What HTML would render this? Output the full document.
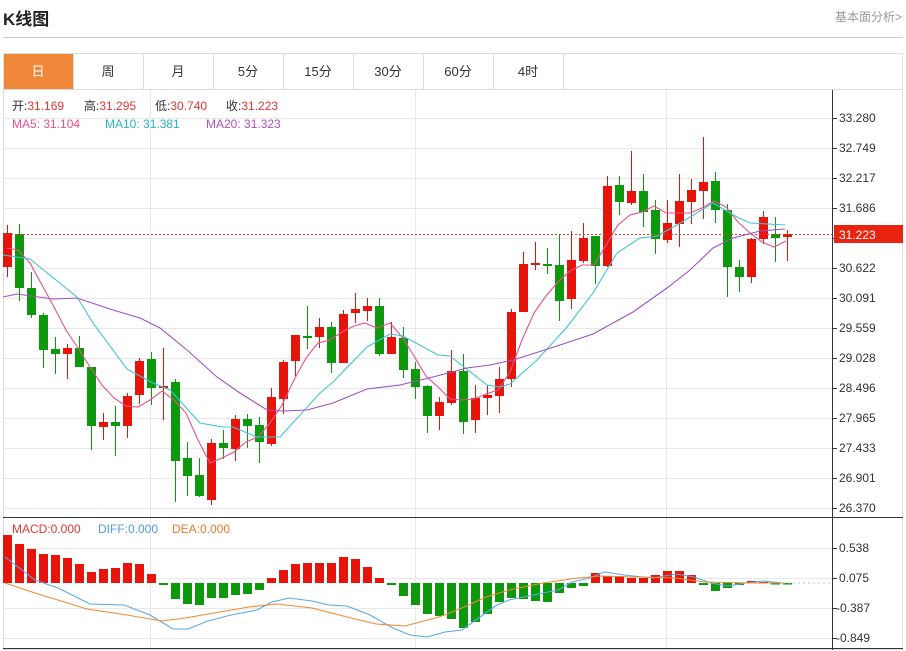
<!DOCTYPE html>
<html><head><meta charset="utf-8">
<style>
body{margin:0;background:#fff;width:906px;height:651px;overflow:hidden;font-family:"Liberation Sans","Noto Sans CJK SC",sans-serif;}
.t{position:absolute;white-space:nowrap;}
</style></head><body>
<div class="t" style="left:3px;top:5px;font-size:17px;font-weight:bold;color:#222;">K线图</div>
<div class="t" style="left:835px;top:8px;font-size:12px;color:#999;">基本面分析&gt;</div>
<div style="position:absolute;left:3px;top:37px;width:900px;height:1px;background:#ccc"></div>
<svg width="906" height="651" style="position:absolute;left:0;top:0" id="s" xmlns="http://www.w3.org/2000/svg" font-family="Liberation Sans, Noto Sans CJK SC, sans-serif">
<rect x="3.5" y="53.5" width="899" height="596" fill="none" stroke="#ddd"/>
<line x1="3" y1="89.5" x2="903" y2="89.5" stroke="#ddd"/>
<rect x="4" y="54" width="69" height="35" fill="#f0883a"/>
<g stroke="#ddd"><line x1="73.5" y1="54" x2="73.5" y2="89"/><line x1="143.5" y1="54" x2="143.5" y2="89"/><line x1="213.5" y1="54" x2="213.5" y2="89"/><line x1="283.5" y1="54" x2="283.5" y2="89"/><line x1="353.5" y1="54" x2="353.5" y2="89"/><line x1="423.5" y1="54" x2="423.5" y2="89"/><line x1="493.5" y1="54" x2="493.5" y2="89"/><line x1="563.5" y1="54" x2="563.5" y2="89"/></g>
<g font-size="13" text-anchor="middle" fill="#333"><text x="38" y="76" fill="#fff">日</text><text x="108" y="76">周</text><text x="178" y="76">月</text><text x="248" y="76">5分</text><text x="318" y="76">15分</text><text x="388" y="76">30分</text><text x="458" y="76">60分</text><text x="528" y="76">4时</text></g>
<g id="grid" stroke="#e8e8e8" stroke-width="1"></g>
<g id="cd"></g>
<g id="ln" fill="none" stroke-width="1.1"></g>
<line x1="3" y1="234.5" x2="832" y2="234.5" stroke="#e8332f" stroke-dasharray="2,2"/>
<line x1="832.5" y1="90" x2="832.5" y2="650" stroke="#333"/>
<line x1="3" y1="517.5" x2="903" y2="517.5" stroke="#333"/>
<line x1="3" y1="648.5" x2="903" y2="648.5" stroke="#333"/>
<g font-size="12" fill="#333">
<text x="839" y="122">33.280</text><text x="839" y="152">32.749</text><text x="839" y="182">32.217</text><text x="839" y="212">31.686</text><text x="839" y="272">30.622</text><text x="839" y="302">30.091</text><text x="839" y="332">29.559</text><text x="839" y="362">29.028</text><text x="839" y="392">28.496</text><text x="839" y="422">27.965</text><text x="839" y="452">27.433</text><text x="839" y="482">26.901</text><text x="839" y="512">26.370</text>
<text x="839" y="552">0.538</text><text x="839" y="582">0.075</text><text x="836" y="612">-0.387</text><text x="836" y="642">-0.849</text>
</g>
<rect x="834" y="225" width="69" height="18" fill="#e8230f"/>
<text x="839" y="239" font-size="12" fill="#fff">31.223</text>
<g font-size="12">
<text x="12" y="110" fill="#333">开:<tspan fill="#e8332f">31.169</tspan></text>
<text x="84" y="110" fill="#333">高:<tspan fill="#e8332f">31.295</tspan></text>
<text x="155" y="110" fill="#333">低:<tspan fill="#e8332f">30.740</tspan></text>
<text x="226" y="110" fill="#333">收:<tspan fill="#e8332f">31.223</tspan></text>
<text x="12" y="128" fill="#e8508a">MA5: 31.104</text>
<text x="105" y="128" fill="#26b5c8">MA10: 31.381</text>
<text x="206" y="128" fill="#b050c0">MA20: 31.323</text>
<text x="12" y="533" fill="#e8332f">MACD:0.000</text>
<text x="98" y="533" fill="#4a9fe0">DIFF:0.000</text>
<text x="172" y="533" fill="#f07a20">DEA:0.000</text>
</g>
</svg>
<script>
var NS="http://www.w3.org/2000/svg";
function el(p,t,a){var e=document.createElementNS(NS,t);for(var k in a)e.setAttribute(k,a[k]);document.getElementById(p).appendChild(e);return e;}
[118,148,178,208,238,268,298,328,358,388,418,448,478,508,548,578,608,638].forEach(function(y){el("grid","line",{x1:3,x2:832,y1:y+.5,y2:y+.5});el("grid","line",{x1:832,x2:837,y1:y+.5,y2:y+.5,stroke:"#333"});});
[150,415,666].forEach(function(x){el("grid","line",{x1:x+.5,x2:x+.5,y1:90,y2:648});});
var C=[["r",233,267,225,277],["g",234,288,224,301],["g",288,315,272,318],["g",315,350,313,368],["g",349,354,337,374],["r",348,354,344,379],["g",348,367,336,367],["g",367,426,367,450],["r",422,427,413,440],["g",422,426,406,456],["r",396,426,393,438],["r",361,395,358,404],["g",359,388,352,405],["r",386,388,348,420],["g",382,461,379,502],["g",458,476,442,496],["g",475,496,458,497],["r",443,500,439,505],["g",443,448,430,459],["r",419,449,415,461],["g",419,426,414,448],["g",425,442,417,463],["r",397,444,388,446],["r",362,399,360,414],["r",335,361,335,376],["g",336,337,306,349],["r",327,337,318,348],["g",327,363,322,373],["r",314,363,310,363],["r",309,313,293,323],["r",306,311,298,321],["g",306,354,298,356],["r",337,354,322,354],["g",338,370,327,378],["g",369,387,362,399],["g",386,416,385,433],["r",402,416,397,430],["r",371,403,350,405],["g",371,422,354,434],["r",398,420,385,433],["r",395,398,385,415],["r",379,396,367,413],["r",312,379,309,387],["r",264,312,252,312],["r",263,264,242,270],["g",264,266,248,274],["g",265,301,235,321],["r",260,299,231,309],["r",238,261,223,263],["g",236,266,236,284],["r",186,266,176,267],["g",185,202,176,215],["r",191,203,151,205],["g",191,212,174,227],["g",210,239,200,254],["r",223,240,200,243],["r",201,224,174,247],["r",190,202,179,224],["r",182,191,137,219],["g",181,210,172,223],["g",210,267,204,297],["g",267,277,260,292],["r",239,277,238,283],["r",217,239,211,244],["g",234,238,217,262],["r",234,237,230,261]];
C.forEach(function(c,i){var x=7+12*i,col=c[0]=="r"?"#e8140c":"#0c9a0c";el("cd","line",{x1:x+.5,x2:x+.5,y1:c[3],y2:c[4],stroke:col});el("cd","rect",{x:x-4,y:c[1],width:9,height:Math.max(2,c[2]-c[1]),fill:col});});
var H=[535,544,549,554,555,558,564,572,569,568,563,564,574,585,599,604,605,598,598,595,594,590,578,570,564,563,563,563,557,559,567,578,585,596,605,614,616,619,628,622,614,602,598,599,601,602,593,588,586,573,576,576,578,578,575,571,571,575,585,591,588,585,581,582,583,583];
H.forEach(function(h,i){var x=7+12*i,r=h<583;el("cd","rect",{x:x-4,y:Math.min(h,583),width:9,height:Math.max(1.5,Math.abs(h-583)),fill:r?"#e8140c":"#0c9a0c"});});
function pl(pts,col){el("ln","polyline",{points:pts,stroke:col});}
pl("7,248 18,250 30,263 42,285 54,307 66,330 78,348 90,367 102,385 114,398 126,406 138,407 150,400 162,391 174,400 186,413 198,440 210,463 222,458 234,452 246,442 258,437 270,423 282,405 294,380 306,358 318,343 330,340 342,332 354,326 365,323 377,328 390,323 402,337 414,356 426,376 438,387 450,399 462,400 474,399 486,394 498,390 510,372 522,340 534,313 546,296 558,282 570,271 582,265 594,265 606,245 618,225 630,215 642,212 654,206 666,213 678,213 690,213 702,208 714,201 726,207 738,222 750,233 762,242 774,247 786,241","#e8508a");
pl("3,255 30,259 77,297 93,323 127,369 153,383 170,390 200,423 222,427 233,427 257,437 280,437 320,393 333,382 367,347 390,334 403,336 438,355 450,356 487,385 500,387 510,384 537,360 567,327 593,293 617,253 640,238 657,236 677,225 713,203 737,217 750,223 785,225","#40c4d4");
pl("3,297 17,294 53,299 77,298 113,310 140,318 160,328 187,350 217,377 240,393 267,410 283,411 307,410 333,403 367,389 400,385 433,377 467,368 490,365 513,360 557,346 593,334 633,312 667,288 690,270 713,248 733,238 760,231 785,229","#a050c0");
pl("5,557 35,580 58,588 90,604 124,605 150,615 173,629 188,629 208,621 231,615 257,610 272,602 289,598 312,601 329,605 347,606 370,615 393,628 410,635 427,637 445,632 462,630 480,617 497,605 509,600 543,593 558,590 572,582 590,578 604,572 624,575 653,578 676,574 694,577 711,583 728,586 746,583 763,581 783,583","#5aa9e6");
pl("5,583 35,593 87,609 127,615 162,621 185,618 220,612 249,607 277,604 312,608 347,617 376,624 405,626 439,617 462,608 486,597 509,590 543,583 578,578 601,576 636,577 676,578 705,582 751,583 783,583","#f08a30");
el("ln","line",{x1:783,x2:830,y1:583,y2:583,stroke:"#9cc8e8","stroke-dasharray":"2,3"});
</script>
</body></html>
